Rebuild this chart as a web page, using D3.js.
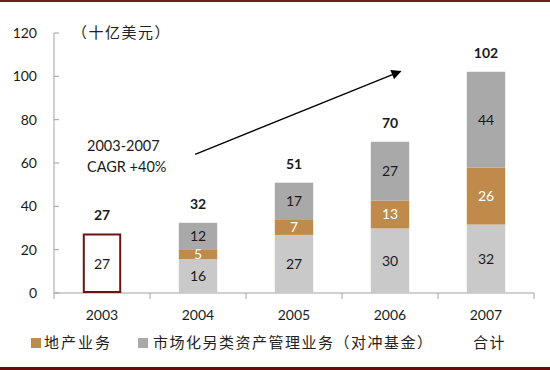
<!DOCTYPE html>
<html>
<head>
<meta charset="utf-8">
<script src="https://cdn.jsdelivr.net/npm/d3@7"></script>
<style>
  body { margin: 0; background: #fff; }
  svg { display: block; }
  .num { font-family: Lato, "Open Sans", sans-serif; font-size: 14px; fill: #1a1a1a; }
  .cjk { font-family: "Noto Sans CJK SC", sans-serif; font-size: 15px; fill: #222; }
</style>
</head>
<body>
<svg class="chart" width="550" height="370"></svg>
<script>
const years = ['2003', '2004', '2005', '2006', '2007']
const base = [0, 15.6, 26.8, 29.8, 31.6]          // 未列入图例的浅灰部分
const realEstate = [0, 4.6, 6.9, 12.9, 26.2]      // 地产业务
const hedge = [0, 12.2, 17.2, 27.1, 44.3]         // 对冲基金
const first = 27                                  // 2003 合计（空心框）
const totals = [27, 32, 51, 70, 102]
const yTicks = [0, 20, 40, 60, 80, 100, 120]

const colors = { base: '#c9c9c9', realEstate: '#c08a4b', hedge: '#a9a9a9' }

const svg = d3.select('.chart')
const width = +svg.attr('width')
const height = +svg.attr('height')

// 上下的深红色边线
svg.append('rect').attr('x', 0).attr('y', 0).attr('width', width).attr('height', 2).attr('fill', '#6e1c1c')
svg.append('rect').attr('x', 0).attr('y', 367).attr('width', width).attr('height', 3).attr('fill', '#6a0a0a')

const plotLeft = 54, plotRight = 534, plotTop = 33, plotBottom = 293

const x = d3.scaleBand().domain(years).range([plotLeft, plotRight]).paddingInner(0.6).paddingOuter(0.3)
const xi = d3.scaleLinear().domain([0, 5]).range([plotLeft, plotRight])
const y = d3.scaleLinear().domain([0, 120]).range([plotBottom, plotTop])

// y 轴
svg.append('line').attr('x1', plotLeft).attr('x2', plotLeft).attr('y1', plotTop).attr('y2', plotBottom).attr('stroke', '#a0a0a0')
svg.selectAll('.ytick').data(yTicks).join('line')
  .attr('x1', plotLeft).attr('x2', plotLeft + 5)
  .attr('y1', d => y(d)).attr('y2', d => y(d))
  .attr('stroke', '#a0a0a0')
svg.selectAll('.ylab').data(yTicks).join('text')
  .attr('class', 'num')
  .attr('x', 37).attr('y', d => y(d)).attr('dy', '0.35em')
  .attr('text-anchor', 'end')
  .text(d => d)

// x 轴
svg.append('line').attr('x1', plotLeft).attr('x2', plotRight).attr('y1', plotBottom).attr('y2', plotBottom).attr('stroke', '#a0a0a0')
svg.selectAll('.xtick').data(d3.range(6)).join('line')
  .attr('x1', d => xi(d)).attr('x2', d => xi(d))
  .attr('y1', plotBottom).attr('y2', plotBottom + 6)
  .attr('stroke', '#a0a0a0')
svg.selectAll('.xlab').data(years).join('text')
  .attr('class', 'num')
  .attr('x', d => x(d) + x.bandwidth() / 2).attr('y', 315).attr('dy', '0.35em')
  .attr('text-anchor', 'middle')
  .text(d => d)

// 堆叠柱
const rows = years.map((yr, i) => ({ year: yr, base: base[i], realEstate: realEstate[i], hedge: hedge[i] }))
const keys = ['base', 'realEstate', 'hedge']
const stack = d3.stack().keys(keys)(rows.slice(1))

stack.forEach(layer => {
  const g = svg.append('g')
  g.selectAll('rect').data(layer).join('rect')
    .attr('x', d => x(d.data.year))
    .attr('width', x.bandwidth())
    .attr('y', d => y(d[1]))
    .attr('height', d => y(d[0]) - y(d[1]))
    .attr('fill', colors[layer.key])
  g.selectAll('text').data(layer).join('text')
    .attr('class', 'num')
    .attr('x', d => x(d.data.year) + x.bandwidth() / 2)
    .attr('y', d => (y(d[0]) + y(d[1])) / 2).attr('dy', '0.35em')
    .attr('text-anchor', 'middle')
    .style('fill', layer.key === 'realEstate' ? '#fff' : '#1a1a1a')
    .text(d => Math.round(d[1] - d[0]))
})

// 2003 空心框
svg.append('rect')
  .attr('x', x('2003') + 1).attr('width', x.bandwidth() - 2)
  .attr('y', y(first)).attr('height', y(0) - y(first) - 1)
  .attr('fill', '#fff').attr('stroke', '#6b1414').attr('stroke-width', 2)
svg.append('text').attr('class', 'num')
  .attr('x', x('2003') + x.bandwidth() / 2).attr('y', y(first / 2)).attr('dy', '0.35em')
  .attr('text-anchor', 'middle').text(first)

// 合计
const tops = years.map((yr, i) => i === 0 ? first : base[i] + realEstate[i] + hedge[i])
svg.selectAll('.total').data(years).join('text')
  .attr('class', 'num')
  .style('font-weight', 'bold')
  .attr('x', d => x(d) + x.bandwidth() / 2)
  .attr('y', (d, i) => y(tops[i]) - 19).attr('dy', '0.35em')
  .attr('text-anchor', 'middle')
  .text((d, i) => totals[i])

// 单位
svg.append('text').attr('class', 'cjk')
  .attr('x', 72).attr('y', 33).attr('dy', '0.35em')
  .style('letter-spacing', '1.5px')
  .text('（十亿美元）')

// 增长箭头与注释
svg.append('defs').append('marker')
  .attr('id', 'head').attr('viewBox', '0 0 10 10')
  .attr('refX', 9).attr('refY', 5)
  .attr('markerWidth', 13).attr('markerHeight', 10)
  .attr('markerUnits', 'userSpaceOnUse')
  .attr('orient', 'auto')
  .append('path').attr('d', 'M0,0L10,5L0,10z').attr('fill', '#000')
svg.append('line')
  .attr('x1', xi(1.47)).attr('y1', y(64))
  .attr('x2', xi(3.61)).attr('y2', y(102.3))
  .attr('stroke', '#000').attr('stroke-width', 1.3)
  .attr('marker-end', 'url(#head)')
svg.append('text').attr('class', 'num').style('font-size', '14.5px')
  .attr('x', 87).attr('y', 146).attr('dy', '0.35em').text('2003-2007')
svg.append('text').attr('class', 'num').style('font-size', '14.5px')
  .attr('x', 87).attr('y', 167).attr('dy', '0.35em').text('CAGR +40%')

// 图例
const legend = svg.append('g').attr('transform', 'translate(0,343)')
legend.append('rect').attr('x', 31).attr('y', -5).attr('width', 10).attr('height', 10).attr('fill', colors.realEstate)
legend.append('text').attr('class', 'cjk').attr('x', 44).attr('dy', '0.35em')
  .style('letter-spacing', '2px').text('地产业务')
legend.append('rect').attr('x', 138).attr('y', -5).attr('width', 10).attr('height', 10).attr('fill', colors.hedge)
legend.append('text').attr('class', 'cjk').attr('x', 153).attr('dy', '0.35em')
  .style('letter-spacing', '1.5px').text('市场化另类资产管理业务（对冲基金）')
legend.append('text').attr('class', 'cjk').attr('x', 473).attr('dy', '0.35em')
  .style('letter-spacing', '1.5px').text('合计')
</script>
</body>
</html>
